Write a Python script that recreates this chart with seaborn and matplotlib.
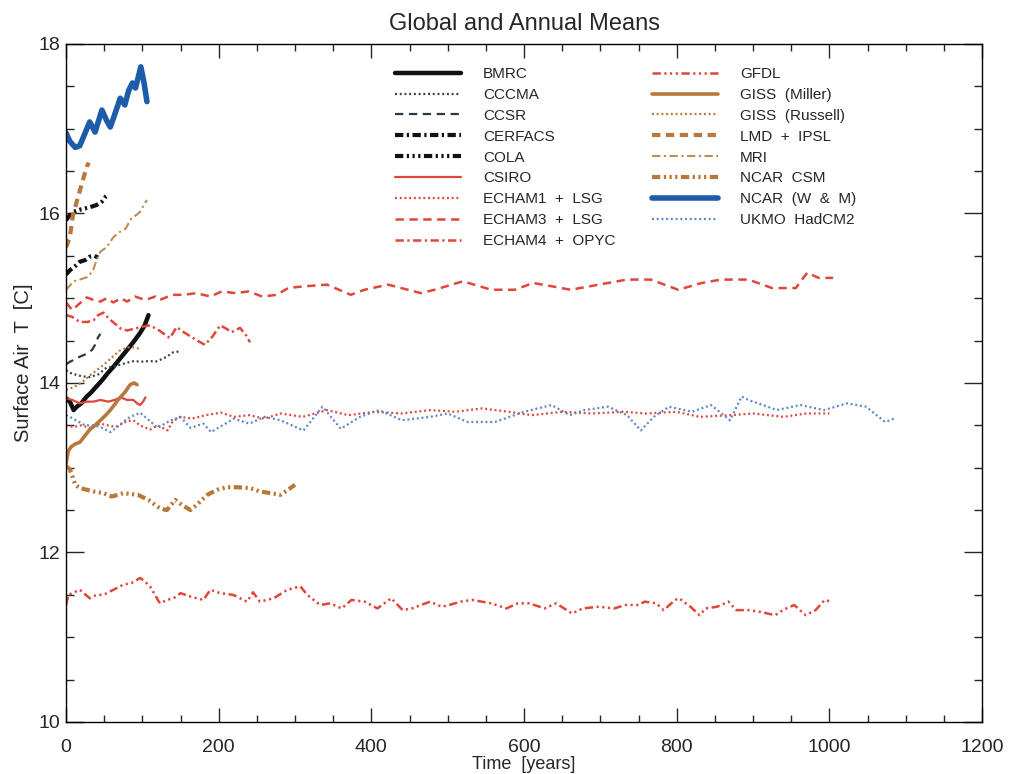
import numpy as np
import pandas as pd
import matplotlib
matplotlib.use("Agg")
import matplotlib.pyplot as plt
import seaborn as sns
from matplotlib.ticker import MultipleLocator

# --- data (years, surface air T in C) ---
bmrc_yr = [0, 5, 10, 14, 20, 27, 32, 36, 42, 47, 55, 62, 70, 80, 88, 97, 103, 108]
bmrc_t = [13.82, 13.78, 13.68, 13.72, 13.76, 13.84, 13.88, 13.92, 13.98, 14.03, 14.12, 14.19, 14.28, 14.39, 14.48, 14.59, 14.68, 14.80]

cccma_yr = [0, 5, 12, 20, 31, 42, 53, 65, 80, 90, 97, 110, 117, 125, 132, 140, 145, 150]
cccma_t = [14.15, 14.12, 14.10, 14.08, 14.07, 14.10, 14.18, 14.20, 14.24, 14.26, 14.25, 14.26, 14.25, 14.28, 14.31, 14.36, 14.37, 14.36]

ccsr_yr = [0, 5, 12, 18, 26, 34, 38, 42, 45]
ccsr_t = [14.22, 14.25, 14.28, 14.31, 14.34, 14.39, 14.45, 14.54, 14.58]

cerfacs_yr = [0, 5, 12, 18, 25, 31, 37, 42]
cerfacs_t = [15.28, 15.33, 15.38, 15.43, 15.45, 15.49, 15.50, 15.48]

cola_yr = [0, 5, 10, 20, 30, 40, 47, 52, 55]
cola_t = [15.92, 15.98, 16.02, 16.05, 16.07, 16.10, 16.14, 16.20, 16.22]

csiro_yr = [0, 8, 18, 28, 36, 45, 55, 64, 71, 80, 88, 93, 97, 101, 104]
csiro_t = [13.82, 13.80, 13.76, 13.78, 13.78, 13.80, 13.78, 13.80, 13.83, 13.80, 13.80, 13.76, 13.74, 13.78, 13.83]

echam1_yr = [0, 10, 20, 31, 45, 55, 65, 80, 88, 97, 110, 120, 133, 140, 150, 165, 183, 203, 220, 240,
             260, 281, 310, 342, 370, 404, 440, 477, 510, 545, 580, 610, 650, 690, 730, 760, 800, 830,
             870, 900, 940, 970, 1000]
echam1_t = [13.50, 13.48, 13.50, 13.47, 13.52, 13.50, 13.48, 13.55, 13.56, 13.50, 13.45, 13.50, 13.44, 13.55,
            13.60, 13.58, 13.62, 13.65, 13.60, 13.62, 13.58, 13.64, 13.60, 13.68, 13.62, 13.66, 13.64, 13.68,
            13.66, 13.70, 13.66, 13.62, 13.66, 13.64, 13.66, 13.64, 13.66, 13.60, 13.62, 13.64, 13.60, 13.64, 13.64]

echam3_yr = [0, 8, 18, 27, 36, 45, 53, 62, 72, 80, 90, 104, 117, 123, 139, 154, 171, 189, 204, 222, 239,
             257, 276, 291, 311, 342, 373, 391, 422, 465, 483, 520, 557, 588, 612, 637, 661, 710, 735, 766,
             802, 833, 858, 894, 925, 956, 971, 986, 1005]
echam3_t = [14.95, 14.86, 14.94, 15.01, 14.98, 14.96, 15.00, 14.95, 15.00, 14.96, 15.02, 14.98, 15.02, 14.98,
            15.04, 15.04, 15.06, 15.02, 15.08, 15.06, 15.08, 15.02, 15.04, 15.12, 15.14, 15.16, 15.04, 15.10,
            15.16, 15.06, 15.10, 15.20, 15.10, 15.10, 15.18, 15.14, 15.10, 15.18, 15.22, 15.22, 15.10, 15.18,
            15.22, 15.22, 15.12, 15.12, 15.30, 15.24, 15.24]

echam4_yr = [0, 8, 18, 28, 36, 42, 49, 56, 64, 72, 80, 90, 97, 110, 122, 136, 145, 154, 163, 172, 182,
             192, 202, 210, 217, 228, 236, 241]
echam4_t = [14.80, 14.78, 14.72, 14.72, 14.74, 14.80, 14.83, 14.76, 14.70, 14.64, 14.62, 14.64, 14.66, 14.68,
            14.62, 14.53, 14.66, 14.60, 14.55, 14.50, 14.45, 14.55, 14.68, 14.64, 14.60, 14.65, 14.56, 14.48]

gfdl_yr = [0, 3, 8, 18, 31, 40, 49, 62, 75, 86, 97, 103, 110, 123, 132, 141, 150, 163, 180, 189, 202, 219,
           237, 245, 254, 272, 290, 307, 316, 333, 346, 361, 374, 391, 408, 426, 441, 453, 477, 492, 502,
           517, 532, 557, 577, 592, 607, 627, 642, 663, 677, 698, 718, 733, 750, 758, 773, 783, 798, 803,
           818, 830, 838, 853, 868, 878, 894, 909, 929, 939, 954, 969, 982, 994, 1002]
gfdl_t = [11.38, 11.50, 11.52, 11.56, 11.46, 11.50, 11.50, 11.56, 11.62, 11.64, 11.70, 11.66, 11.60, 11.40,
          11.44, 11.46, 11.52, 11.48, 11.44, 11.56, 11.52, 11.50, 11.42, 11.53, 11.42, 11.46, 11.56, 11.60,
          11.50, 11.38, 11.40, 11.34, 11.44, 11.42, 11.34, 11.46, 11.32, 11.34, 11.42, 11.36, 11.38, 11.42,
          11.44, 11.40, 11.34, 11.40, 11.40, 11.34, 11.40, 11.28, 11.34, 11.36, 11.34, 11.38, 11.38, 11.42,
          11.40, 11.32, 11.44, 11.46, 11.36, 11.26, 11.34, 11.36, 11.42, 11.32, 11.32, 11.30, 11.26, 11.32,
          11.38, 11.26, 11.32, 11.44, 11.42]

giss_m_yr = [0, 3, 7, 12, 18, 25, 31, 38, 45, 52, 58, 64, 68, 73, 77, 84, 89, 93]
giss_m_t = [13.05, 13.20, 13.25, 13.28, 13.30, 13.38, 13.45, 13.50, 13.56, 13.62, 13.68, 13.75, 13.80, 13.85,
            13.89, 13.98, 14.00, 13.98]

giss_r_yr = [0, 10, 20, 30, 40, 50, 60, 70, 80, 90, 97]
giss_r_t = [13.92, 13.95, 14.00, 14.08, 14.15, 14.22, 14.30, 14.38, 14.42, 14.42, 14.40]

lmd_yr = [0, 5, 9, 14, 21, 27, 30]
lmd_t = [15.60, 15.72, 15.98, 16.14, 16.36, 16.55, 16.60]

mri_yr = [0, 5, 10, 18, 28, 35, 40, 45, 53, 62, 70, 78, 86, 92, 97, 102, 106]
mri_t = [15.10, 15.15, 15.20, 15.22, 15.25, 15.32, 15.45, 15.55, 15.60, 15.72, 15.78, 15.82, 15.95, 15.98,
         16.02, 16.10, 16.16]

ncar_csm_yr = [0, 5, 8, 12, 18, 36, 49, 60, 75, 94, 108, 123, 132, 143, 152, 163, 171, 185, 198, 211, 224,
               241, 254, 268, 281, 294, 300]
ncar_csm_t = [13.02, 12.98, 12.91, 12.80, 12.76, 12.72, 12.70, 12.66, 12.70, 12.68, 12.62, 12.52, 12.50,
              12.62, 12.56, 12.50, 12.56, 12.68, 12.74, 12.77, 12.77, 12.76, 12.72, 12.70, 12.68, 12.76, 12.80]

ncar_wm_yr = [0, 5, 12, 18, 25, 31, 38, 47, 53, 58, 65, 71, 77, 82, 87, 91, 98, 102, 106]
ncar_wm_t = [16.95, 16.85, 16.78, 16.80, 16.95, 17.08, 16.96, 17.22, 17.10, 17.02, 17.20, 17.36, 17.28, 17.45,
             17.54, 17.48, 17.73, 17.55, 17.32]

hadcm2_yr = [0, 5, 15, 25, 36, 45, 58, 70, 80, 97, 110, 120, 135, 150, 163, 180, 190, 205, 220, 240, 260,
             281, 311, 336, 360, 385, 410, 440, 477, 500, 526, 562, 600, 636, 660, 679, 710, 735, 753, 770,
             790, 820, 845, 870, 885, 894, 919, 931, 962, 993, 1023, 1048, 1073, 1085]
hadcm2_t = [13.62, 13.60, 13.55, 13.50, 13.50, 13.48, 13.42, 13.50, 13.58, 13.65, 13.55, 13.47, 13.55, 13.60,
            13.47, 13.52, 13.42, 13.50, 13.58, 13.52, 13.60, 13.56, 13.44, 13.72, 13.46, 13.60, 13.68, 13.56,
            13.60, 13.64, 13.54, 13.54, 13.66, 13.74, 13.62, 13.68, 13.72, 13.62, 13.44, 13.60, 13.72, 13.66,
            13.74, 13.56, 13.84, 13.80, 13.72, 13.68, 13.74, 13.68, 13.76, 13.72, 13.54, 13.58]

# --- styles ---
BLACK, RED, BROWN, BLUE, LBLUE = "#111111", "#e0463a", "#b8783a", "#1d5ca8", "#5a86c4"
solid = "-"
dot = (0, (1.4, 2.0))
dash = (0, (6, 4))
dashdot = (0, (6, 2.5, 1.6, 2.5))
dash3dot = (0, (6, 2.5, 1.6, 2.5, 1.6, 2.5, 1.6, 2.5))

col1 = [
    ("BMRC", bmrc_yr, bmrc_t, BLACK, 3.2, solid),
    ("CCCMA", cccma_yr, cccma_t, "#34404c", 1.6, dot),
    ("CCSR", ccsr_yr, ccsr_t, "#2c3a44", 1.6, dash),
    ("CERFACS", cerfacs_yr, cerfacs_t, BLACK, 3.0, dashdot),
    ("COLA", cola_yr, cola_t, BLACK, 3.0, dash3dot),
    ("CSIRO", csiro_yr, csiro_t, RED, 1.6, solid),
    ("ECHAM1  +  LSG", echam1_yr, echam1_t, RED, 1.6, dot),
    ("ECHAM3  +  LSG", echam3_yr, echam3_t, RED, 1.8, dash),
    ("ECHAM4  +  OPYC", echam4_yr, echam4_t, RED, 1.8, dashdot),
]
col2 = [
    ("GFDL", gfdl_yr, gfdl_t, RED, 1.8, dash3dot),
    ("GISS  (Miller)", giss_m_yr, giss_m_t, BROWN, 2.6, solid),
    ("GISS  (Russell)", giss_r_yr, giss_r_t, BROWN, 1.6, dot),
    ("LMD  +  IPSL", lmd_yr, lmd_t, BROWN, 3.0, dash),
    ("MRI", mri_yr, mri_t, "#c08c55", 1.5, dashdot),
    ("NCAR  CSM", ncar_csm_yr, ncar_csm_t, BROWN, 3.0, dash3dot),
    ("NCAR  (W  &  M)", ncar_wm_yr, ncar_wm_t, BLUE, 4.0, solid),
    ("UKMO  HadCM2", hadcm2_yr, hadcm2_t, LBLUE, 1.6, dot),
]

sns.set_style("ticks")
plt.rcParams["font.family"] = ["Liberation Sans", "DejaVu Sans"]
plt.rcParams["lines.scale_dashes"] = False

fig = plt.figure(figsize=(10.13, 7.74), dpi=100)
ax = fig.add_axes([0.0652, 0.0672, 0.9042, 0.8760])

handles = {}
for name, yr, t, c, lw, ls in col1 + col2:
    df = pd.DataFrame({"year": yr, "T": t})
    sns.lineplot(data=df, x="year", y="T", ax=ax, color=c, lw=lw, linestyle=ls,
                 estimator=None, label=name, legend=False)
    handles[name] = ax.lines[-1]

ax.set_xlim(0, 1200)
ax.set_ylim(10, 18)
ax.xaxis.set_major_locator(MultipleLocator(200))
ax.xaxis.set_minor_locator(MultipleLocator(50))
ax.yaxis.set_major_locator(MultipleLocator(2))
ax.yaxis.set_minor_locator(MultipleLocator(0.5))
ax.tick_params(axis="x", which="major", direction="in", length=10, width=1, top=True, labelsize=14, pad=12)
ax.tick_params(axis="x", which="minor", direction="in", length=5, width=1, top=True)
ax.tick_params(axis="y", which="major", direction="in", length=13, width=1, right=True, labelsize=14, pad=4)
ax.tick_params(axis="y", which="minor", direction="in", length=6, width=1, right=True)
for sp in ax.spines.values():
    sp.set_visible(True)
    sp.set_linewidth(1.0)
    sp.set_color("black")

ax.set_title("Global and Annual Means", fontsize=17, pad=10)
ax.set_xlabel("Time  [years]", fontsize=13, labelpad=0)
ax.set_ylabel("Surface Air  T  [C]", fontsize=14.5)
ax.yaxis.set_label_coords(-0.036, 0.53)

leg_kw = dict(frameon=False, fontsize=11, handlelength=4.3, handletextpad=1.45,
              labelspacing=0.45, borderpad=0, borderaxespad=0, loc="upper left")
leg1 = ax.legend([handles[c[0]] for c in col1], [c[0] for c in col1],
                 bbox_to_anchor=(395 / 1013, 1 - 67 / 774), bbox_transform=fig.transFigure, **leg_kw)
ax.add_artist(leg1)
ax.legend([handles[c[0]] for c in col2], [c[0] for c in col2],
          bbox_to_anchor=(652 / 1013, 1 - 67 / 774), bbox_transform=fig.transFigure, **leg_kw)

fig.savefig("out.png", dpi=100)
